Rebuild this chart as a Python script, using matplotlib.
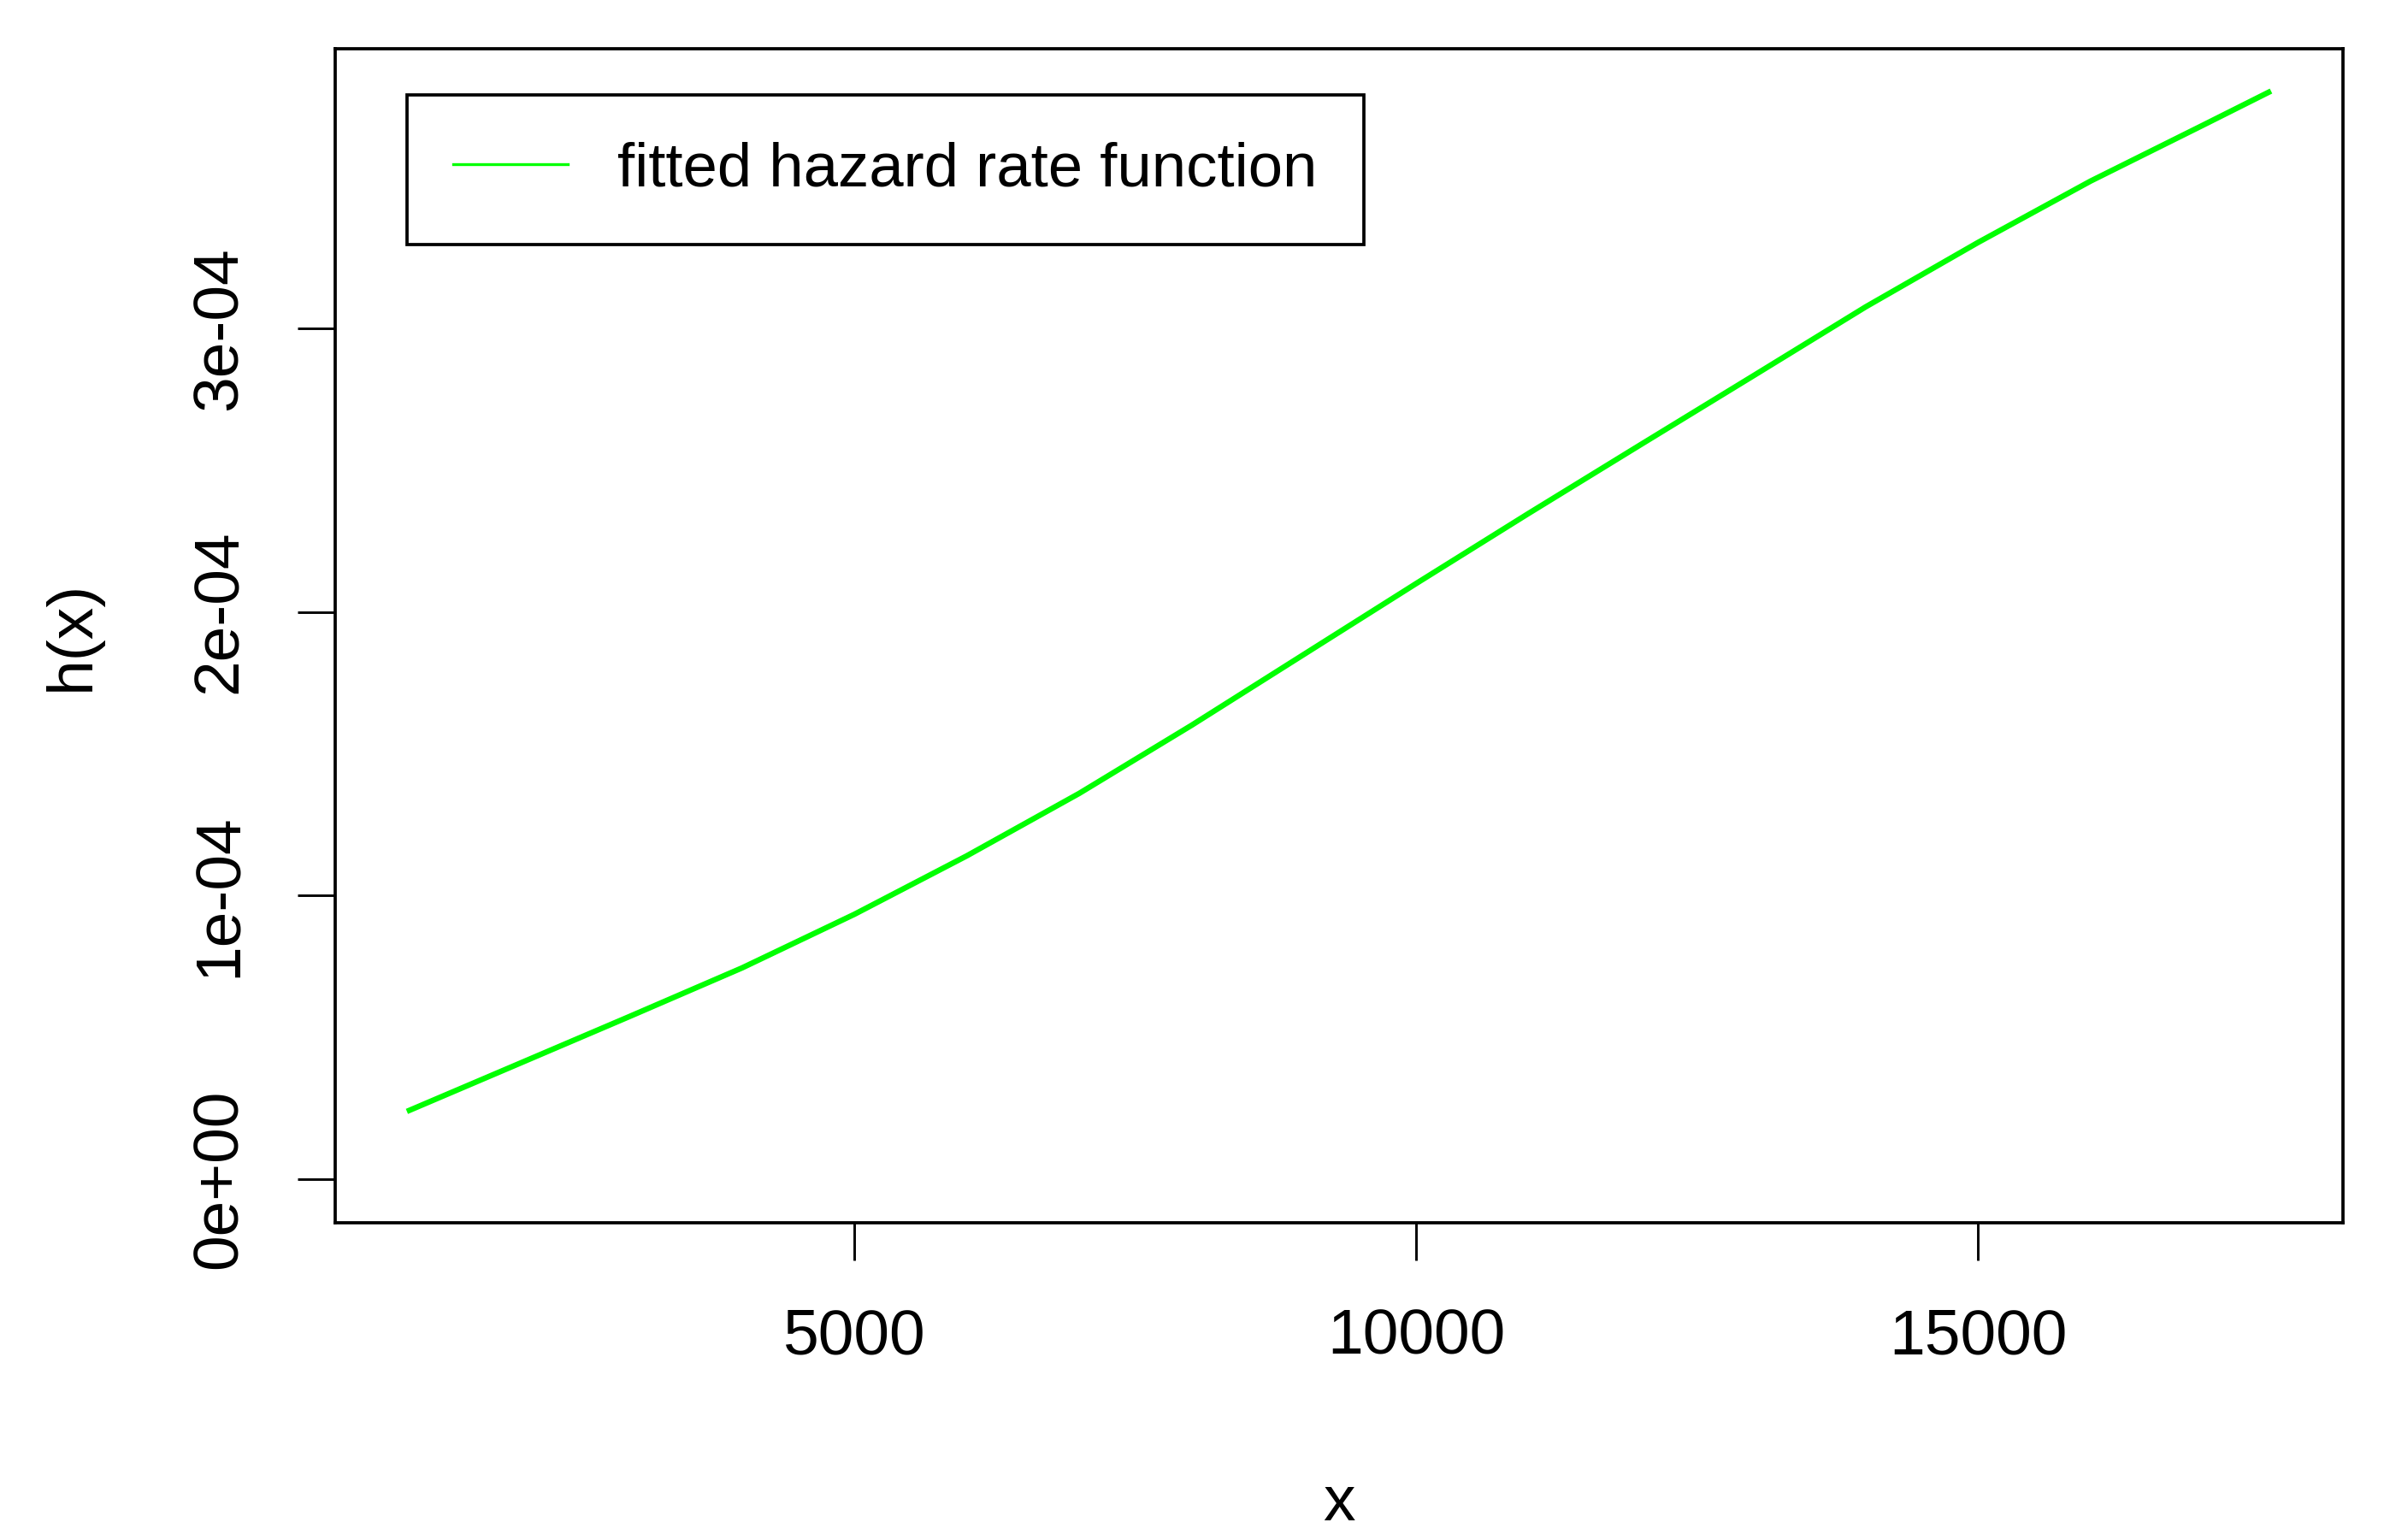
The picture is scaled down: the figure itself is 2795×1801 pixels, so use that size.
import matplotlib
matplotlib.use("Agg")
import matplotlib.pyplot as plt

# valores (x, h(x))
x_vals = [1040, 2000, 3000, 4000, 5000, 6000, 7000, 8000, 9000, 10000,
          11000, 12000, 13000, 14000, 15000, 16000, 17000, 17584]
h_vals = [0.243e-4, 0.405e-4, 0.574e-4, 0.745e-4, 0.934e-4, 1.140e-4, 1.360e-4,
          1.600e-4, 1.850e-4, 2.100e-4, 2.347e-4, 2.590e-4, 2.832e-4, 3.075e-4,
          3.302e-4, 3.518e-4, 3.715e-4, 3.831e-4]

x_ticks = [5000, 10000, 15000]
y_ticks = [0, 1e-4, 2e-4, 3e-4]
y_tick_labels = ["0e+00", "1e-04", "2e-04", "3e-04"]

plt.rcParams['font.family'] = ['Liberation Sans', 'DejaVu Sans']
fs = 18

fig = plt.figure(figsize=(2795 / 300, 1801 / 300), dpi=300)
ax = fig.add_axes([0.1402, 0.206, 0.8401, 0.7623])

ax.plot(x_vals, h_vals, color="#00FF00", lw=1.55, label="fitted hazard rate function")

# limites no estilo do R (4% de folga), y comeca em 0
xr = max(x_vals) - min(x_vals)
ax.set_xlim(min(x_vals) - 0.04 * xr, max(x_vals) + 0.04 * xr)
ymax = max(h_vals)
ax.set_ylim(-0.04 * ymax, ymax * 1.04)

ax.set_xticks(x_ticks)
ax.set_xticklabels([str(v) for v in x_ticks])
ax.set_yticks(y_ticks)
ax.set_yticklabels(y_tick_labels, rotation=90, va="center")

ax.tick_params(axis="both", direction="out", length=10.5, width=0.7,
               labelsize=fs, pad=13.5, color="black")
for s in ax.spines.values():
    s.set_linewidth(0.9)
    s.set_color("black")

ax.set_xlabel("x", fontsize=fs, labelpad=30)
ax.set_ylabel("h(x)", fontsize=fs, labelpad=25)

leg = ax.legend(loc="upper left", bbox_to_anchor=(0.0357, 0.961), fontsize=17.4,
                handlelength=1.85, handletextpad=0.8, borderpad=0.75,
                borderaxespad=0, fancybox=False, framealpha=1, edgecolor="black")
leg.get_frame().set_linewidth(0.9)
leg.get_lines()[0].set_linewidth(0.8)

fig.savefig("out.png", dpi=300)
